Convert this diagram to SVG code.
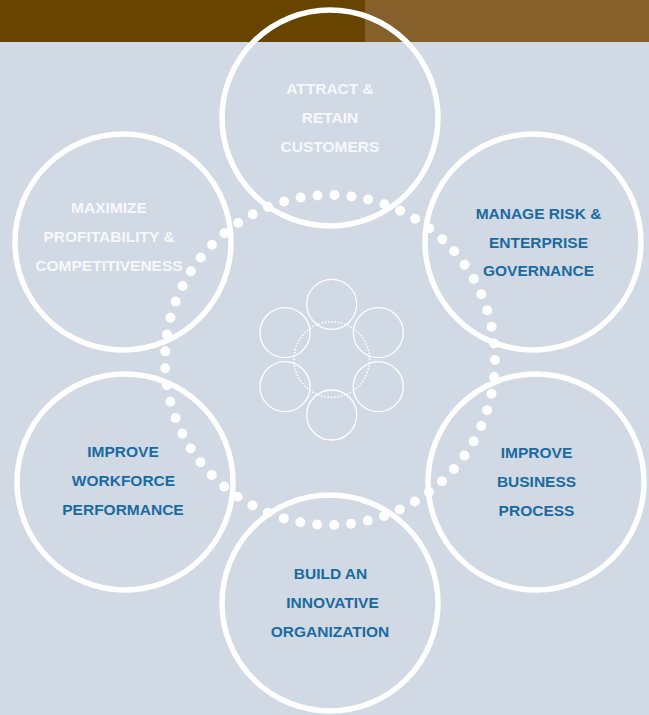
<svg xmlns="http://www.w3.org/2000/svg" width="649" height="715" viewBox="0 0 649 715">
  <style>
    .big { fill: none; stroke: #ffffff; stroke-width: 5.5; }
    .small { fill: none; stroke: #ffffff; stroke-width: 1.3; }
    .t { font-family: "Liberation Sans", Arial, Helvetica, sans-serif; font-weight: bold; font-size: 15.5px; text-anchor: middle; }
    .w { fill: #f6f8fb; }
    .b { fill: #1a6b9f; }
  </style>
  <rect x="0" y="0" width="649" height="715" fill="#d1d9e5"/>
  <rect x="0" y="0" width="365" height="42" fill="#674500"/>
  <rect x="365" y="0" width="284" height="42" fill="#86602a"/>

  <g id="connectors">
    <circle cx="330" cy="360" r="165" fill="none" stroke="#ffffff" stroke-width="10" stroke-linecap="round" stroke-dasharray="0 16.995"/>
  </g>

  <g id="node-attract">
    <circle class="big" cx="330" cy="118" r="108"/>
    <text class="t w" x="330" y="93.5">ATTRACT &amp;</text>
    <text class="t w" x="330" y="122.5">RETAIN</text>
    <text class="t w" x="330" y="151.5">CUSTOMERS</text>
  </g>
  <g id="node-maximize">
    <circle class="big" cx="123" cy="242" r="108"/>
    <text class="t w" x="109" y="212.5">MAXIMIZE</text>
    <text class="t w" x="109" y="241.5">PROFITABILITY &amp;</text>
    <text class="t w" x="109" y="270.5">COMPETITIVENESS</text>
  </g>
  <g id="node-risk">
    <circle class="big" cx="533" cy="242" r="108"/>
    <text class="t b" x="538.5" y="218.5">MANAGE RISK &amp;</text>
    <text class="t b" x="538.5" y="247.5">ENTERPRISE</text>
    <text class="t b" x="538.5" y="276">GOVERNANCE</text>
  </g>
  <g id="node-workforce">
    <circle class="big" cx="125" cy="482" r="108"/>
    <text class="t b" x="123" y="456.5">IMPROVE</text>
    <text class="t b" x="123.5" y="485.5">WORKFORCE</text>
    <text class="t b" x="123" y="514.5">PERFORMANCE</text>
  </g>
  <g id="node-business">
    <circle class="big" cx="536" cy="482" r="108"/>
    <text class="t b" x="536.5" y="457.5">IMPROVE</text>
    <text class="t b" x="536.5" y="486.5">BUSINESS</text>
    <text class="t b" x="536.5" y="515.5">PROCESS</text>
  </g>
  <g id="node-innovate">
    <circle class="big" cx="330" cy="603" r="108"/>
    <text class="t b" x="330.5" y="579">BUILD AN</text>
    <text class="t b" x="332.5" y="608.3">INNOVATIVE</text>
    <text class="t b" x="330" y="637.3">ORGANIZATION</text>
  </g>

  <g id="node-mini">
    <circle cx="331.7" cy="359.5" r="37.8" fill="none" stroke="#ffffff" stroke-width="1.8" stroke-linecap="round" stroke-dasharray="0 3.3"/>
    <circle class="small" cx="331.7" cy="304.3" r="25"/>
    <circle class="small" cx="285" cy="332.7" r="25"/>
    <circle class="small" cx="378.3" cy="332.7" r="25"/>
    <circle class="small" cx="285" cy="386.7" r="25"/>
    <circle class="small" cx="378.3" cy="386.7" r="25"/>
    <circle class="small" cx="331.7" cy="415" r="25"/>
  </g>
</svg>
